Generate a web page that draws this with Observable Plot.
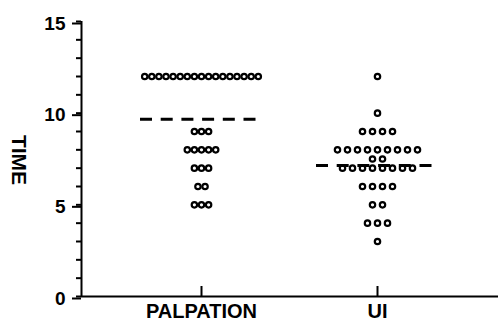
<!DOCTYPE html>
<html>
<head>
<meta charset="utf-8">
<script src="https://cdn.jsdelivr.net/npm/d3@7"></script>
<script src="https://cdn.jsdelivr.net/npm/@observablehq/plot@0.6"></script>
<style>
  html, body { margin: 0; padding: 0; background: #fff; }
  svg { display: block; }
</style>
</head>
<body>
<div id="chart"></div>
<script>
// ---- data ----
const groups = ["PALPATION", "UI"];
const palpationTimes = [
  12,12,12,12,12,12,12,12,12,12,12,12,12,12,12,12,12,
  9,9,9,
  8,8,8,8,8,
  7,7,7,
  6,6,
  5,5,5
];
const uiTimes = [
  12,
  10,
  9,9,9,9,
  8,8,8,8,8,8,8,8,8,
  7.5,7.5,
  7,7,7,7,7,7,7,7,
  6,6,6,6,
  5,5,
  4,4,4,
  3
];
const yTicks = [0, 5, 10, 15];
const yMinorTicks = [0,1,2,3,4,5,6,7,8,9,10,11,12,13,14,15];

// ---- layout ----
const W = 498, H = 322;
const mL = 81, mR = 0, mT = 21, mB = 26;
const groupGapPx = 176;      // px between group centres
const firstCenterPx = 120;   // px from the y axis to the first group centre
const pitchPx = [7.1, 10];   // horizontal spacing of dots within a row, per group
const meanHalfLeft = 61, meanHalfRight = 60;
const xDomain = [-firstCenterPx / groupGapPx, (W - mL - mR - firstCenterPx) / groupGapPx];

// build dot positions (row-centred dot plot)
const series = [palpationTimes, uiTimes];
const dots = [];
series.forEach((vals, gi) => {
  const rows = d3.group(vals, v => v);
  for (const [v, arr] of rows) {
    const n = arr.length;
    arr.forEach((_, i) => {
      dots.push({group: groups[gi], gi, time: v, x: gi + (i - (n - 1) / 2) * pitchPx[gi] / groupGapPx});
    });
  }
});
const means = series.map((vals, gi) => ({
  gi,
  mean: d3.mean(vals),
  x1: gi - meanHalfLeft / groupGapPx,
  x2: gi + meanHalfRight / groupGapPx
}));

const font = "'Liberation Sans', Arial, sans-serif";

const chart = Plot.plot({
  width: W,
  height: H,
  marginLeft: mL,
  marginRight: mR,
  marginTop: mT,
  marginBottom: mB,
  style: {fontFamily: font, background: "#fff", color: "#000", overflow: "visible"},
  x: {domain: xDomain},
  y: {domain: [0, 15]},
  marks: [
    // minor y ticks
    Plot.axisY({ticks: yMinorTicks, tickSize: 5, tickFormat: null, text: null, strokeWidth: 2}),
    // major y ticks + labels
    Plot.axisY({ticks: yTicks, tickSize: 9, tickPadding: 7, strokeWidth: 2,
      fontSize: 19, fontWeight: "bold", label: null, dy: 2}),
    // x category labels
    Plot.axisX({ticks: [0, 1], tickSize: 0, tickPadding: 7.3, tickFormat: i => groups[i],
      fontSize: 20, fontWeight: "bold", label: null}),
    // category ticks pointing up
    Plot.tickX([0, 1], {x: d => d, insetTop: H - mT - mB - 10, strokeWidth: 2}),
    // axis lines
    Plot.ruleX([xDomain[0]], {y1: 0, y2: 15, strokeWidth: 2}),
    Plot.ruleY([0], {strokeWidth: 2}),
    // y axis title
    Plot.text(["TIME"], {frameAnchor: "left", textAnchor: "middle", lineAnchor: "middle",
      rotate: 90, dx: -63, dy: 1, fontSize: 21, fontWeight: "bold"}),
    // dots
    Plot.dot(dots, {x: "x", y: "time", r: 2.7, stroke: "#000", strokeWidth: 2.2, fill: "#fff"}),
    // mean lines
    Plot.ruleY(means, {y: "mean", x1: "x1", x2: "x2", stroke: "#000", strokeWidth: 3, strokeDasharray: "12,8.7"})
  ]
});
document.getElementById("chart").appendChild(chart);
</script>
</body>
</html>
